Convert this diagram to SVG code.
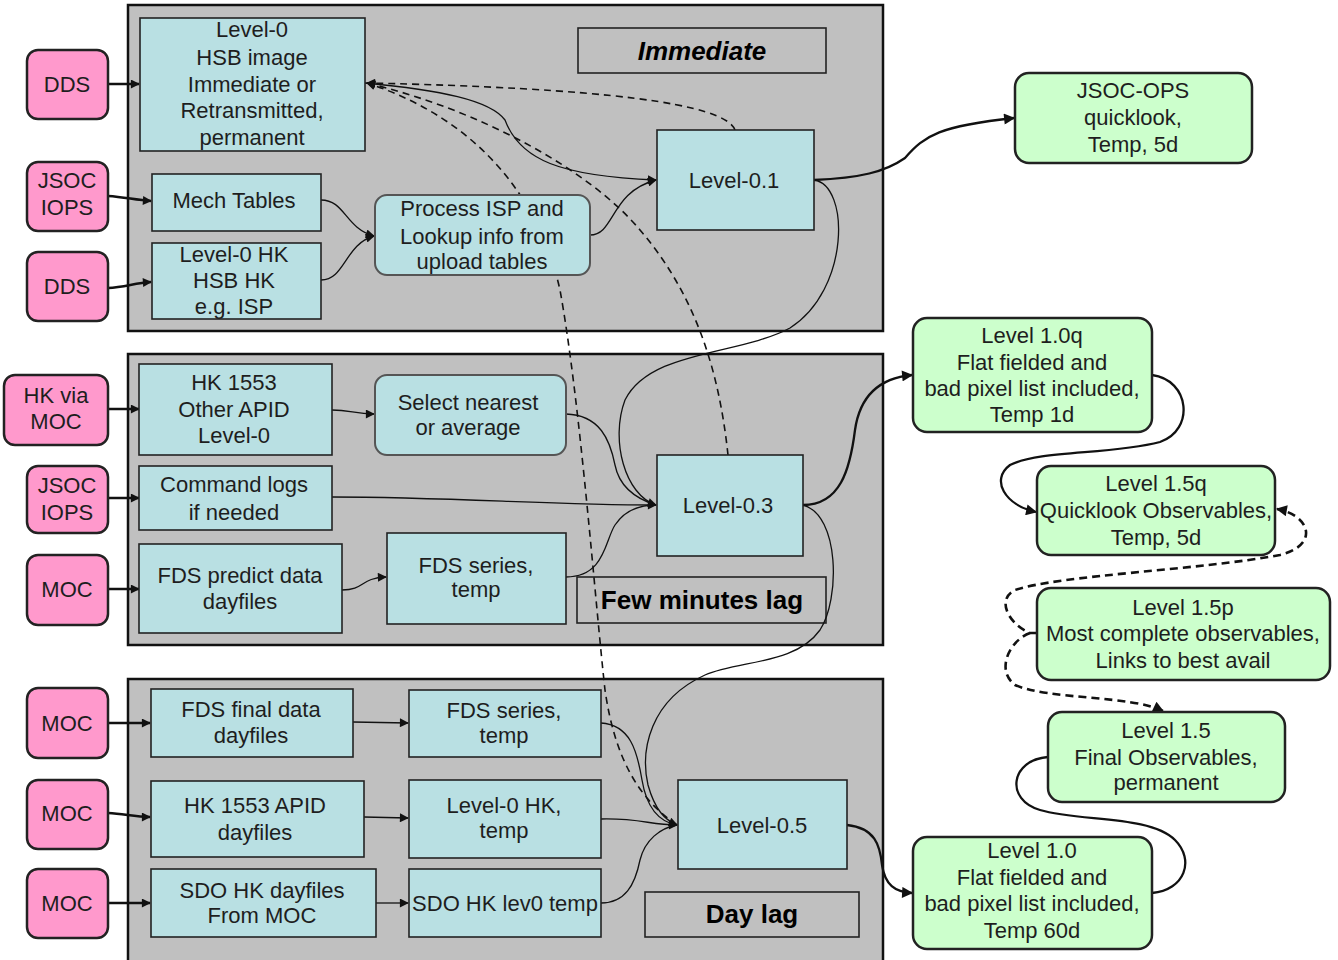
<svg xmlns="http://www.w3.org/2000/svg" width="1338" height="960" viewBox="0 0 1338 960">
<style>
text{font-family:"Liberation Sans",Arial,sans-serif;font-size:22px;fill:#1e1e1e;text-anchor:middle}
.panel{fill:#c0c0c0;stroke:#111;stroke-width:2.5}
.src{fill:#ff99cc;stroke:#222;stroke-width:2.5}
.box{fill:#b9e0e3;stroke:#222;stroke-width:1.6}
.rbox{fill:#b9e0e3;stroke:#555;stroke-width:2}
.out{fill:#ccffcc;stroke:#222;stroke-width:2.5}
.lab{fill:#c0c0c0;stroke:#222;stroke-width:1.6}
.bold{font-weight:bold;font-size:26px;fill:#000}
.c{fill:none;stroke:#111;stroke-width:1.3}
.cs{fill:none;stroke:#111;stroke-width:2.5}
.ct{fill:none;stroke:#111;stroke-width:2.3}
.d{fill:none;stroke:#111;stroke-width:1.6;stroke-dasharray:7 5}
.dt{fill:none;stroke:#111;stroke-width:2.6;stroke-dasharray:8 5}
</style>
<defs>
<marker id="ah" viewBox="0 0 10 10" refX="9" refY="5" markerWidth="10" markerHeight="9" markerUnits="userSpaceOnUse" orient="auto">
<path d="M0,0 L10,5 L0,10 z" fill="#111"/>
</marker>
<marker id="ahl" viewBox="0 0 10 10" refX="9" refY="5" markerWidth="12" markerHeight="11" markerUnits="userSpaceOnUse" orient="auto">
<path d="M0,0 L10,5 L0,10 z" fill="#111"/>
</marker>
</defs>

<g id="panels">
<rect id="panel-immediate" class="panel" x="128" y="5" width="755" height="326"/>
<rect id="panel-minutes" class="panel" x="128" y="354" width="755" height="291"/>
<rect id="panel-day" class="panel" x="128" y="679" width="755" height="290"/>
</g>

<g id="labels">
<g id="lab-immediate"><rect class="lab" x="578" y="28" width="248" height="45"/><text class="bold" x="702" y="60" font-style="italic">Immediate</text></g>
<g id="lab-minutes"><rect class="lab" x="577" y="577" width="249" height="46"/><text class="bold" x="702" y="609">Few minutes lag</text></g>
<g id="lab-day"><rect class="lab" x="645" y="892" width="214" height="45"/><text class="bold" x="752" y="923">Day lag</text></g>
</g>

<g id="connectors">
<!-- source arrows -->
<path class="cs" d="M108,84 L139,84" marker-end="url(#ah)"/>
<path class="cs" d="M108,196 C125,197 135,200 151,201" marker-end="url(#ah)"/>
<path class="cs" d="M108,288 C125,287 135,283 151,282" marker-end="url(#ah)"/>
<path class="cs" d="M108,409 L139,409" marker-end="url(#ah)"/>
<path class="cs" d="M108,498 L139,498" marker-end="url(#ah)"/>
<path class="cs" d="M108,589 L139,589" marker-end="url(#ah)"/>
<path class="cs" d="M108,723 L150,723" marker-end="url(#ah)"/>
<path class="cs" d="M108,813 C125,814 135,817 150,817" marker-end="url(#ah)"/>
<path class="cs" d="M108,903 L150,903" marker-end="url(#ah)"/>
<!-- immediate panel -->
<path class="c" d="M321,200 C345,200 345,228 374,236" marker-end="url(#ah)"/>
<path class="c" d="M321,280 C345,280 345,244 374,236" marker-end="url(#ah)"/>
<path class="c" d="M590,235 C615,235 610,192 656,180" marker-end="url(#ah)"/>
<path class="c" d="M365,83 C440,90 490,100 505,120 C520,160 560,176 656,180" marker-end="url(#ah)"/>
<path class="d" d="M735,130 C725,103 600,88 367,83" marker-end="url(#ah)"/>
<path class="d" d="M728,455 C720,380 700,300 640,230 C590,170 480,110 367,83" marker-end="url(#ah)"/>
<path class="d" d="M677,825 C640,800 615,760 605,690 C595,600 580,400 560,290 C540,200 480,120 367,83" marker-end="url(#ah)"/>
<path class="ct" d="M814,180 C860,178 885,172 905,158 C925,135 940,126 1014,118" marker-end="url(#ahl)"/>
<path class="c" d="M814,180 C850,185 850,290 790,328 C740,355 650,350 625,400 C610,440 625,495 656,505" marker-end="url(#ah)"/>
<!-- few minutes panel -->
<path class="c" d="M332,410 C350,410 355,414 374,414" marker-end="url(#ah)"/>
<path class="c" d="M342,590 C365,590 360,578 386,577" marker-end="url(#ah)"/>
<path class="c" d="M566,414 C600,415 610,440 615,465 C620,490 640,500 656,505"/>
<path class="c" d="M332,497 C450,497 550,505 656,505" marker-end="url(#ah)"/>
<path class="c" d="M566,577 C605,577 605,540 615,525 C625,510 640,505 656,505"/>
<path class="ct" d="M803,505 C840,505 850,470 855,430 C860,395 880,378 912,375" marker-end="url(#ahl)"/>
<path class="c" d="M803,505 C840,515 840,600 820,630 C795,665 740,660 705,675 C650,700 640,750 648,785 C655,810 665,820 677,825" marker-end="url(#ah)"/>
<!-- day panel -->
<path class="c" d="M353,722 L408,723" marker-end="url(#ah)"/>
<path class="c" d="M364,817 L408,818" marker-end="url(#ah)"/>
<path class="c" d="M376,903 L408,903" marker-end="url(#ah)"/>
<path class="c" d="M601,723 C630,725 637,750 642,780 C647,810 660,822 677,825"/>
<path class="c" d="M601,819 C640,818 650,825 677,825" marker-end="url(#ah)"/>
<path class="c" d="M601,903 C625,903 635,885 640,860 C645,840 660,828 677,825"/>
<path class="ct" d="M847,825 C875,828 880,845 882,865 C885,885 895,892 912,893" marker-end="url(#ahl)"/>
<!-- level 1 -->
<path class="ct" d="M1152,375 C1190,380 1195,430 1160,442 C1110,455 1040,450 1010,465 C990,480 1005,505 1036,512" marker-end="url(#ahl)"/>
<path class="dt" d="M1037,633 L1030,633 C1010,625 995,600 1015,590 C1060,575 1200,570 1280,555 C1320,545 1310,515 1277,509" marker-end="url(#ahl)"/>
<path class="dt" d="M1030,633 C1010,640 995,670 1015,685 C1050,700 1130,695 1163,711" marker-end="url(#ahl)"/>
<path class="ct" d="M1048,757 C1010,760 1005,800 1040,810 C1080,822 1150,815 1175,840 C1195,860 1185,890 1152,893"/>
</g>

<g id="n-dds1"><rect class="src" x="27" y="50" width="81" height="69" rx="11"/><text x="67" y="92">DDS</text></g>
<g id="n-jsoc1"><rect class="src" x="27" y="162" width="81" height="69" rx="11"/><text x="67" y="188">JSOC</text><text x="67" y="215">IOPS</text></g>
<g id="n-dds2"><rect class="src" x="27" y="252" width="81" height="69" rx="11"/><text x="67" y="294">DDS</text></g>
<g id="n-hkmoc"><rect class="src" x="4" y="375" width="104" height="70" rx="11"/><text x="56" y="403">HK via</text><text x="56" y="429">MOC</text></g>
<g id="n-jsoc2"><rect class="src" x="27" y="466" width="81" height="67" rx="11"/><text x="67" y="493">JSOC</text><text x="67" y="520">IOPS</text></g>
<g id="n-moc1"><rect class="src" x="27" y="555" width="81" height="70" rx="11"/><text x="67" y="597">MOC</text></g>
<g id="n-moc2"><rect class="src" x="27" y="688" width="81" height="70" rx="11"/><text x="67" y="731">MOC</text></g>
<g id="n-moc3"><rect class="src" x="27" y="780" width="81" height="69" rx="11"/><text x="67" y="821">MOC</text></g>
<g id="n-moc4"><rect class="src" x="27" y="869" width="81" height="69" rx="11"/><text x="67" y="911">MOC</text></g>

<g id="n-level0"><rect class="box" x="140" y="18" width="225" height="133"/><text x="252" y="37">Level-0</text><text x="252" y="65">HSB image</text><text x="252" y="92">Immediate or</text><text x="252" y="118">Retransmitted,</text><text x="252" y="145">permanent</text></g>
<g id="n-mech"><rect class="box" x="152" y="174" width="169" height="57"/><text x="234" y="208">Mech Tables</text></g>
<g id="n-hk0"><rect class="box" x="152" y="243" width="169" height="76"/><text x="234" y="262">Level-0 HK</text><text x="234" y="288">HSB HK</text><text x="234" y="314">e.g. ISP</text></g>
<g id="n-isp"><rect class="rbox" x="375" y="195" width="215" height="80" rx="12"/><text x="482" y="216">Process ISP and</text><text x="482" y="244">Lookup info from</text><text x="482" y="269">upload tables</text></g>
<g id="n-l01"><rect class="box" x="657" y="130" width="157" height="100"/><text x="734" y="188">Level-0.1</text></g>

<g id="n-hk1553"><rect class="box" x="139" y="364" width="193" height="91"/><text x="234" y="390">HK 1553</text><text x="234" y="417">Other APID</text><text x="234" y="443">Level-0</text></g>
<g id="n-select"><rect class="rbox" x="375" y="375" width="191" height="80" rx="12"/><text x="468" y="410">Select nearest</text><text x="468" y="435">or average</text></g>
<g id="n-cmdlogs"><rect class="box" x="139" y="466" width="193" height="64"/><text x="234" y="492">Command logs</text><text x="234" y="520">if needed</text></g>
<g id="n-fdspred"><rect class="box" x="139" y="544" width="203" height="89"/><text x="240" y="583">FDS predict data</text><text x="240" y="609">dayfiles</text></g>
<g id="n-fdsser1"><rect class="box" x="387" y="533" width="179" height="91"/><text x="476" y="573">FDS series,</text><text x="476" y="597">temp</text></g>
<g id="n-l03"><rect class="box" x="657" y="455" width="146" height="101"/><text x="728" y="513">Level-0.3</text></g>

<g id="n-fdsfinal"><rect class="box" x="151" y="689" width="202" height="68"/><text x="251" y="717">FDS final data</text><text x="251" y="743">dayfiles</text></g>
<g id="n-fdsser2"><rect class="box" x="409" y="690" width="192" height="67"/><text x="504" y="718">FDS series,</text><text x="504" y="743">temp</text></g>
<g id="n-hkapid"><rect class="box" x="151" y="781" width="213" height="76"/><text x="255" y="813">HK 1553 APID</text><text x="255" y="840">dayfiles</text></g>
<g id="n-hk0temp"><rect class="box" x="409" y="780" width="192" height="78"/><text x="504" y="813">Level-0 HK,</text><text x="504" y="838">temp</text></g>
<g id="n-sdohk"><rect class="box" x="151" y="869" width="225" height="68"/><text x="262" y="898">SDO HK dayfiles</text><text x="262" y="923">From MOC</text></g>
<g id="n-sdolev0"><rect class="box" x="409" y="869" width="192" height="68"/><text x="505" y="911">SDO HK lev0 temp</text></g>
<g id="n-l05"><rect class="box" x="678" y="780" width="169" height="89"/><text x="762" y="833">Level-0.5</text></g>

<g id="n-jsocops"><rect class="out" x="1015" y="73" width="237" height="90" rx="14"/><text x="1133" y="98">JSOC-OPS</text><text x="1133" y="125">quicklook,</text><text x="1133" y="152">Temp, 5d</text></g>
<g id="n-l10q"><rect class="out" x="913" y="318" width="239" height="114" rx="14"/><text x="1032" y="343">Level 1.0q</text><text x="1032" y="370">Flat fielded and</text><text x="1032" y="396">bad pixel list included,</text><text x="1032" y="422">Temp 1d</text></g>
<g id="n-l15q"><rect class="out" x="1037" y="466" width="238" height="89" rx="14"/><text x="1156" y="491">Level 1.5q</text><text x="1156" y="518">Quicklook Observables,</text><text x="1156" y="545">Temp, 5d</text></g>
<g id="n-l15p"><rect class="out" x="1037" y="588" width="293" height="92" rx="14"/><text x="1183" y="615">Level 1.5p</text><text x="1183" y="641">Most complete observables,</text><text x="1183" y="668">Links to best avail</text></g>
<g id="n-l15"><rect class="out" x="1048" y="712" width="237" height="90" rx="14"/><text x="1166" y="738">Level 1.5</text><text x="1166" y="765">Final Observables,</text><text x="1166" y="790">permanent</text></g>
<g id="n-l10"><rect class="out" x="913" y="837" width="239" height="112" rx="14"/><text x="1032" y="858">Level 1.0</text><text x="1032" y="885">Flat fielded and</text><text x="1032" y="911">bad pixel list included,</text><text x="1032" y="938">Temp 60d</text></g>
</svg>
